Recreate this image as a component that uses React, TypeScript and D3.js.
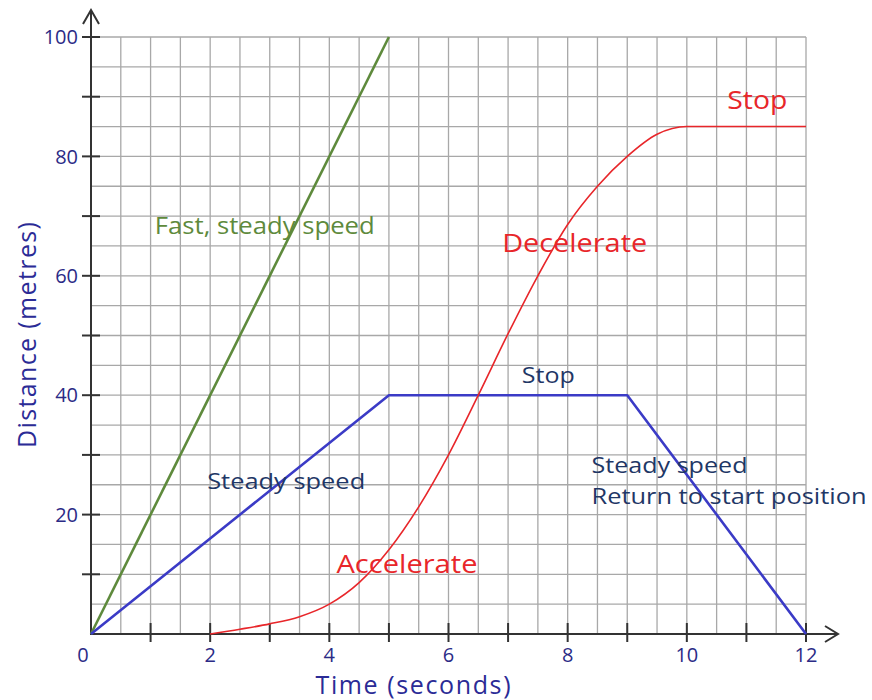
import * as d3 from "d3";

// distance-time data
const fastLine = [
  { t: 0, d: 0 },
  { t: 5, d: 100 },
];
const steadyLine = [
  { t: 0, d: 0 },
  { t: 5, d: 40 },
  { t: 9, d: 40 },
  { t: 12, d: 0 },
];
const accelLine = [
  { t: 2, d: 0 },
  { t: 2.5, d: 0.8 },
  { t: 3, d: 1.7 },
  { t: 3.5, d: 2.9 },
  { t: 4, d: 5.0 },
  { t: 4.5, d: 8.6 },
  { t: 5, d: 14.1 },
  { t: 5.5, d: 21.3 },
  { t: 6, d: 30 },
  { t: 6.5, d: 40 },
  { t: 7, d: 50.3 },
  { t: 7.5, d: 60 },
  { t: 8, d: 68.6 },
  { t: 8.5, d: 75 },
  { t: 9, d: 80 },
  { t: 9.5, d: 83.7 },
  { t: 10, d: 85 },
  { t: 12, d: 85 },
];

const xTickLabels = [0, 2, 4, 6, 8, 10, 12];
const yTickLabels = [20, 40, 60, 80, 100];

// annotation texts with their anchor in data units
const labelTexts = [
  "Fast, steady speed",
  "Decelerate",
  "Stop",
  "Stop",
  "Steady speed",
  "Accelerate",
  "Steady speed",
  "Return to start position",
];
const labelT = [1.07, 6.9, 10.68, 7.23, 1.95, 4.12, 8.4, 8.4];
const labelD = [67, 64, 88, 42, 24.3, 10.2, 27, 21.8];

const RED = "#e8262a";
const GREEN = "#5e8a3c";
const NAVY = "#1f3766";
const labelStyle = [
  { color: GREEN, size: 23, len: 220 },
  { color: RED, size: 26, len: 145 },
  { color: RED, size: 26, len: 60 },
  { color: NAVY, size: 22, len: 53 },
  { color: NAVY, size: 22, len: 158 },
  { color: RED, size: 26, len: 141 },
  { color: NAVY, size: 22, len: 156 },
  { color: NAVY, size: 22, len: 275 },
];

const font = "'Open Sans', Lato, sans-serif";

export default function App() {
  const width = 872;
  const height = 700;
  const x = d3.scaleLinear([0, 12], [91, 806]);
  const y = d3.scaleLinear([0, 100], [634, 37]);

  const line = d3
    .line<{ t: number; d: number }>()
    .x((p) => x(p.t))
    .y((p) => y(p.d));
  const smooth = d3
    .line<{ t: number; d: number }>()
    .x((p) => x(p.t))
    .y((p) => y(p.d))
    .curve(d3.curveMonotoneX);

  const vGrid = d3.range(0.5, 12.01, 0.5);
  const hGrid = d3.range(5, 100.01, 5);
  const xTicks = d3.range(1, 13, 1);
  const yTicks = d3.range(10, 101, 10);

  return (
    <svg
      width={width}
      height={height}
      style={{ position: "absolute", left: 0, top: 0, background: "#fff" }}
      fontFamily={font}
    >
      <g stroke="#a8a8a8" strokeWidth={1.3}>
        {vGrid.map((v) => (
          <line key={"v" + v} x1={x(v)} x2={x(v)} y1={y(0)} y2={y(100)} />
        ))}
        {hGrid.map((v) => (
          <line key={"h" + v} x1={x(0)} x2={x(12)} y1={y(v)} y2={y(v)} />
        ))}
      </g>

      {/* axes with open arrow heads */}
      <g stroke="#333" strokeWidth={2} fill="none">
        <line x1={x(0)} x2={x(0)} y1={y(0) + 1} y2={10} />
        <path d={`M${x(0) - 8},${24} L${x(0)},${10} L${x(0) + 8},${24}`} />
        <line x1={x(0)} x2={838} y1={y(0)} y2={y(0)} />
        <path d={`M${825},${y(0) - 8} L${838},${y(0)} L${825},${y(0) + 8}`} />
        {xTicks.map((v) => (
          <line key={"xt" + v} x1={x(v)} x2={x(v)} y1={y(0) - 11} y2={y(0) + 8} />
        ))}
        {yTicks.map((v) => (
          <line key={"yt" + v} x1={x(0) - 9} x2={x(0) + 9} y1={y(v)} y2={y(v)} />
        ))}
      </g>

      <g fill="none" strokeLinejoin="round">
        <path d={line(fastLine) ?? ""} stroke={GREEN} strokeWidth={2.6} />
        <path d={line(steadyLine) ?? ""} stroke="#3b3bc6" strokeWidth={2.6} />
        <path d={smooth(accelLine) ?? ""} stroke={RED} strokeWidth={1.6} />
      </g>

      <g fill="#2b2b86" fontSize={20}>
        {yTickLabels.map((v) => (
          <text key={"yl" + v} x={x(0) - 13} y={y(v)} dy="0.36em" textAnchor="end">
            {v}
          </text>
        ))}
        {xTickLabels.map((v) => (
          <text
            key={"xl" + v}
            x={v === 0 ? x(0) - 8 : x(v)}
            y={y(0) + 21}
            dy="0.36em"
            textAnchor="middle"
          >
            {v}
          </text>
        ))}
      </g>

      <text
        x={413}
        y={694}
        textAnchor="middle"
        fontSize={25}
        fill="#2b2b96"
        textLength={195}
      >
        Time (seconds)
      </text>
      <text
        transform={`translate(36,335) rotate(-90)`}
        textAnchor="middle"
        fontSize={25}
        fill="#2b2b96"
        textLength={226}
      >
        Distance (metres)
      </text>

      {labelTexts.map((txt, i) => (
        <text
          key={i}
          x={x(labelT[i])}
          y={y(labelD[i])}
          fontSize={labelStyle[i].size}
          fill={labelStyle[i].color}
          textLength={labelStyle[i].len}
          lengthAdjust="spacingAndGlyphs"
        >
          {txt}
        </text>
      ))}
    </svg>
  );
}
